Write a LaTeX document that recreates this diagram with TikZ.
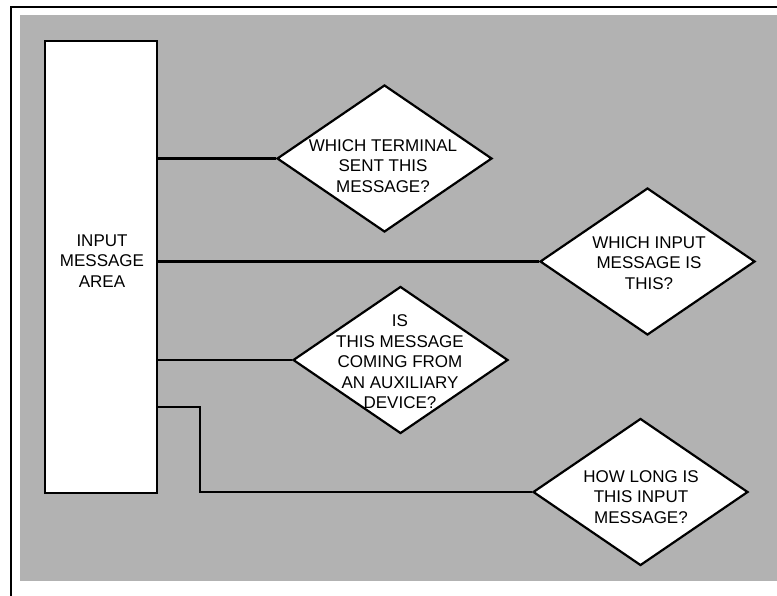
\documentclass[tikz,border=0pt]{standalone}
\usepackage{fontspec}
\setmainfont{Liberation Sans}
\usetikzlibrary{shapes.geometric}
\begin{document}
\begin{tikzpicture}[x=1pt,y=-1pt,
  screen/.style={fill=black!30, draw=none},
  areabox/.style={draw, line width=2.6pt, fill=white, minimum width=112pt,
    minimum height=452pt, inner sep=0pt},
  question/.style={diamond, draw, line width=2.2pt, fill=white,
    minimum width=215pt, minimum height=147pt, inner sep=0pt},
  qtext/.style={align=center, font=\fontsize{17}{20.5}\selectfont, inner sep=0pt},
  link/.style={line width=2.3pt},
]
% page, shaded panel and frame
\useasboundingbox (0,0) rectangle (777,595);
\fill[white] (0,0) rectangle (777,595);
\fill[screen] (20,15) rectangle (777,581);
\draw[line width=2.8pt] (11,600) -- (11,7) -- (780,7);

% storage area
\node[areabox] (area) at (101,267) {};
\node[qtext] (arealabel) at (102,261) {INPUT\\MESSAGE\\AREA};

% questions answered by the area
\node[question] (q1) at (384.5,158.5) {};
\node[qtext] (q1text) at (383,166) {WHICH TERMINAL\\SENT THIS\\MESSAGE?};
\node[question] (q2) at (647.5,261.5) {};
\node[qtext] (q2text) at (649,263) {WHICH INPUT\\MESSAGE IS\\THIS?};
\node[question] (q3) at (400.5,360) {};
\node[qtext] (q3text) at (400,362) {IS\\THIS MESSAGE\\COMING FROM\\AN AUXILIARY\\DEVICE?};
\node[question] (q4) at (640.5,492) {};
\node[qtext] (q4text) at (641,497) {HOW LONG IS\\THIS INPUT\\MESSAGE?};

% connectors
\draw[link] (area.east |- q1.west) -- (q1.west);
\draw[link] (area.east |- q2.west) -- (q2.west);
\draw[link] (area.east |- q3.west) -- (q3.west);
\coordinate (bend) at (200,407);
\draw[link] (area.east |- bend) -- (bend) |- (q4.west);
\end{tikzpicture}
\end{document}
